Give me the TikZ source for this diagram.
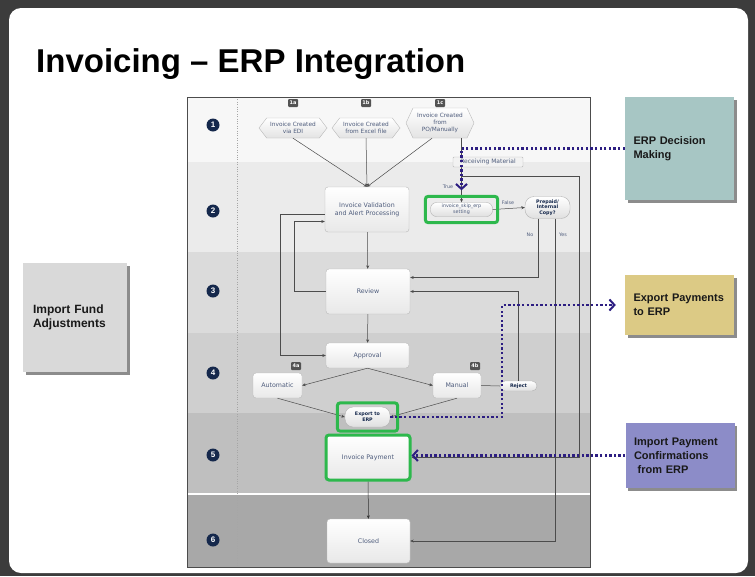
\documentclass[tikz,border=0pt]{standalone}
\usepackage{fontspec}
\setmainfont{Liberation Sans}
\newfontfamily\boxfont{DejaVu Sans}
\usepackage{tikz}
\usetikzlibrary{positioning,fit,shapes.symbols,arrows.meta,shadows}

\definecolor{slidebg}{HTML}{3C3C3C}
\definecolor{slate}{HTML}{4E5C7C}
\definecolor{navy}{HTML}{15284C}
\definecolor{hlgreen}{HTML}{2DB84C}
\definecolor{erpblue}{HTML}{2D1E82}
\definecolor{teal}{HTML}{A7C6C4}
\definecolor{khaki}{HTML}{DCCA85}
\definecolor{lilac}{HTML}{8C8CC8}

\begin{document}
\begin{tikzpicture}[x=1pt,y=-1pt,
    stage/.style={draw=gray!55, rounded corners=3pt, top color=white, bottom color=gray!18,
        font=\boxfont\fontsize{6.3}{7.8}\selectfont, text=slate, align=center,
        minimum width=84pt, minimum height=45pt},
    hexa/.style={signal, signal to=west and east, signal pointer angle=105, draw=gray!55,
        top color=white, bottom color=gray!22, font=\boxfont\fontsize{5.8}{7}\selectfont,
        text=slate, align=center, minimum width=68pt, minimum height=20pt, inner sep=1pt},
    pill/.style={draw=gray!60, rounded corners=6pt, top color=white, bottom color=gray!25,
        font=\boxfont\bfseries\fontsize{4.8}{5.8}\selectfont, text=navy, align=center, inner sep=1pt},
    tag/.style={fill=gray!65!black, text=white, rounded corners=1pt, inner sep=1pt,
        font=\boxfont\bfseries\fontsize{5}{5}\selectfont, minimum width=10pt, minimum height=8pt},
    lanenum/.style={circle, fill=navy, text=white, inner sep=0pt, minimum size=13pt,
        font=\bfseries\fontsize{8}{8}\selectfont},
    lbl/.style={font=\boxfont\fontsize{4.8}{5}\selectfont, text=slate, inner sep=1pt},
    flow/.style={draw=gray!60!black, line width=0.5pt, -{Stealth[length=3.5pt,width=3pt]}},
    hilite/.style={draw=hlgreen, line width=3pt, rounded corners=3pt},
    erplink/.style={draw=erpblue, line width=2.3pt, dash pattern=on 2.3pt off 2.3pt,
        -{Straight Barb[length=5pt,width=11pt,line width=2pt]}},
    sticky/.style={minimum height=#1, text width=92pt, inner xsep=8.5pt, align=left,
        font=\bfseries\fontsize{11}{14}\selectfont, text=black!90,
        drop shadow={shadow xshift=2.5pt, shadow yshift=-2.5pt, fill=black, opacity=.45}}]

    \useasboundingbox (0,0) rectangle (755,576);
    \fill[slidebg] (0,0) rectangle (755,576);
    \fill[white, rounded corners=12pt] (9,8) rectangle (748,573);

    \node[anchor=base west, inner sep=0pt, font=\bfseries\fontsize{33}{36}\selectfont] (title)
        at (36,72) {Invoicing – ERP Integration};

    % lanes
    \foreach \top/\bot/\g in {97/162/3, 162/252/8, 252/333/14, 333/413/19, 413/494/25, 494/567/34}
        \fill[black!\g] (187,\top) rectangle (590,\bot);
    \draw[white, line width=1.5pt] (187,494) -- (590,494);
    \draw[gray!70, dotted] (237,97) -- (237,567);
    \draw[gray!60!black, line width=0.6pt] (187,97) rectangle (590,567);
    \foreach \n/\y in {1/125, 2/211, 3/291, 4/373, 5/455, 6/540}
        \node[lanenum] (lane\n) at (213,\y) {\n};

    % creation
    \node[hexa] (a1) at (293,128) {Invoice Created\\via EDI};
    \node[hexa] (b1) at (366,128) {Invoice Created\\from Excel file};
    \node[hexa, minimum height=30pt, signal pointer angle=130] (c1) at (440,123)
        {Invoice Created\\from\\PO/Manually};
    \node[tag] (t1a) at (293,103) {1a};
    \node[tag] (t1b) at (366,103) {1b};
    \node[tag] (t1c) at (440,103) {1c};

    % processing
    \node[stage] (val) at (367,209.5) {Invoice Validation\\and Alert Processing};
    \node[pill, minimum width=62pt, minimum height=14pt, font=\boxfont\fontsize{4.8}{5.8}\selectfont,
        text=slate] (skip) at (461.5,209.5) {invoice\_skip\_erp\\setting};
    \node[pill, minimum width=45pt, minimum height=22pt, rounded corners=9pt] (prep) at (547.5,207.5)
        {Prepaid/\\Internal\\Copy?};
    \node[stage] (rev) at (368,291.5) {Review};
    \node[stage, minimum width=83pt, minimum height=25pt] (apr) at (367.5,355.5) {Approval};
    \node[stage, minimum width=49pt, minimum height=25pt] (auto) at (277.5,385.5) {Automatic};
    \node[stage, minimum width=48pt, minimum height=25pt] (man) at (457,385.5) {Manual};
    \node[tag] (t4a) at (296,366) {4a};
    \node[tag] (t4b) at (475,366) {4b};
    \node[pill, minimum width=37pt, minimum height=10pt, rounded corners=5pt] (rej) at (518.5,386) {Reject};
    \node[pill, minimum width=45pt, minimum height=20pt, rounded corners=8pt] (exp) at (367.5,417)
        {Export to\\ERP};
    \node[stage, draw=hlgreen, line width=3pt] (pay) at (368,457.5) {Invoice Payment};
    \node[stage, minimum width=83pt, minimum height=44pt] (cls) at (368.5,541) {Closed};

    % connectors
    \draw[flow] (a1.south) -- (val.north);
    \draw[flow] (b1.south) -- (val.north);
    \draw[flow] ([xshift=-8pt]c1.south) -- (val.north);
    \draw[flow] (c1.south -| skip.north) -- (skip.north);
    \node[draw=gray!55, fill=gray!10, rounded corners=1pt, minimum width=70pt, minimum height=10pt,
        inner sep=0pt, font=\boxfont\fontsize{6}{6}\selectfont, text=slate] (rcv) at (488,162)
        {Receiving Material};
    \coordinate (tru) at (461.5,176);
    \draw[flow] (tru) -- ++(117.5,0) |- (pay.east);
    \draw[flow] (skip.east) -- (prep.west);
    \draw[flow] ([xshift=-9pt]prep.south) |- ([yshift=14pt]rev.east);
    \draw[flow] ([xshift=8pt]prep.south) |- (cls.east);
    \draw[flow] (val) -- (rev);
    \draw[flow] (rev.west) -- ++(-32,0) |- ([yshift=-12pt]val.west);
    \draw[flow] ([yshift=-5pt]val.west) -- ++(-45,0) |- (apr.west);
    \draw[flow] (rev) -- (apr);
    \draw[flow] (apr.south) -- (auto.east);
    \draw[flow] (apr.south) -- (man.west);
    \draw[flow] (auto.south) -- (exp.west);
    \draw[flow] (man.south) -- (exp.east);
    \draw[draw=gray!60!black, line width=0.5pt] (man.east) -- (rej.west);
    \draw[flow] (rej.north) |- (rev.east);
    \draw[flow, draw=gray!40!black] (pay) -- (cls);

    \node[lbl] (ltrue) at (448,187) {True};
    \node[lbl] (lfalse) at (508,203) {False};
    \node[lbl] (lno) at (530,235) {No};
    \node[lbl] (lyes) at (563,235) {Yes};

    \node[hilite, fit=(skip), inner xsep=5pt, inner ysep=6pt] (skipbox) {};
    \node[hilite, fit=(exp), inner xsep=7.5pt, inner ysep=4pt] (expbox) {};

    % sticky notes
    \node[sticky=103pt, fill=teal] (erp) at (679.5,148.5) {ERP Decision\\Making};
    \node[sticky=60pt, fill=khaki] (expn) at (679.5,305) {Export Payments\\to ERP};
    \node[sticky=65pt, fill=lilac] (impn) at (680,455.5) {Import Payment\\Confirmations\\\ from ERP};
    \node[sticky=109pt, fill=gray!30, text width=84pt, inner xsep=10pt,
        font=\bfseries\fontsize{12}{14}\selectfont] (fund) at (75,317.5) {Import Fund\\Adjustments};

    \draw[erplink] (erp.west) -| ([yshift=12pt]skip.north);
    \draw[erplink] (exp.east) -- ++(112,0) |- ([xshift=-9pt]expn.west);
    \draw[erplink] (impn.west) -- (impn.west -| pay.east);
\end{tikzpicture}
\end{document}
